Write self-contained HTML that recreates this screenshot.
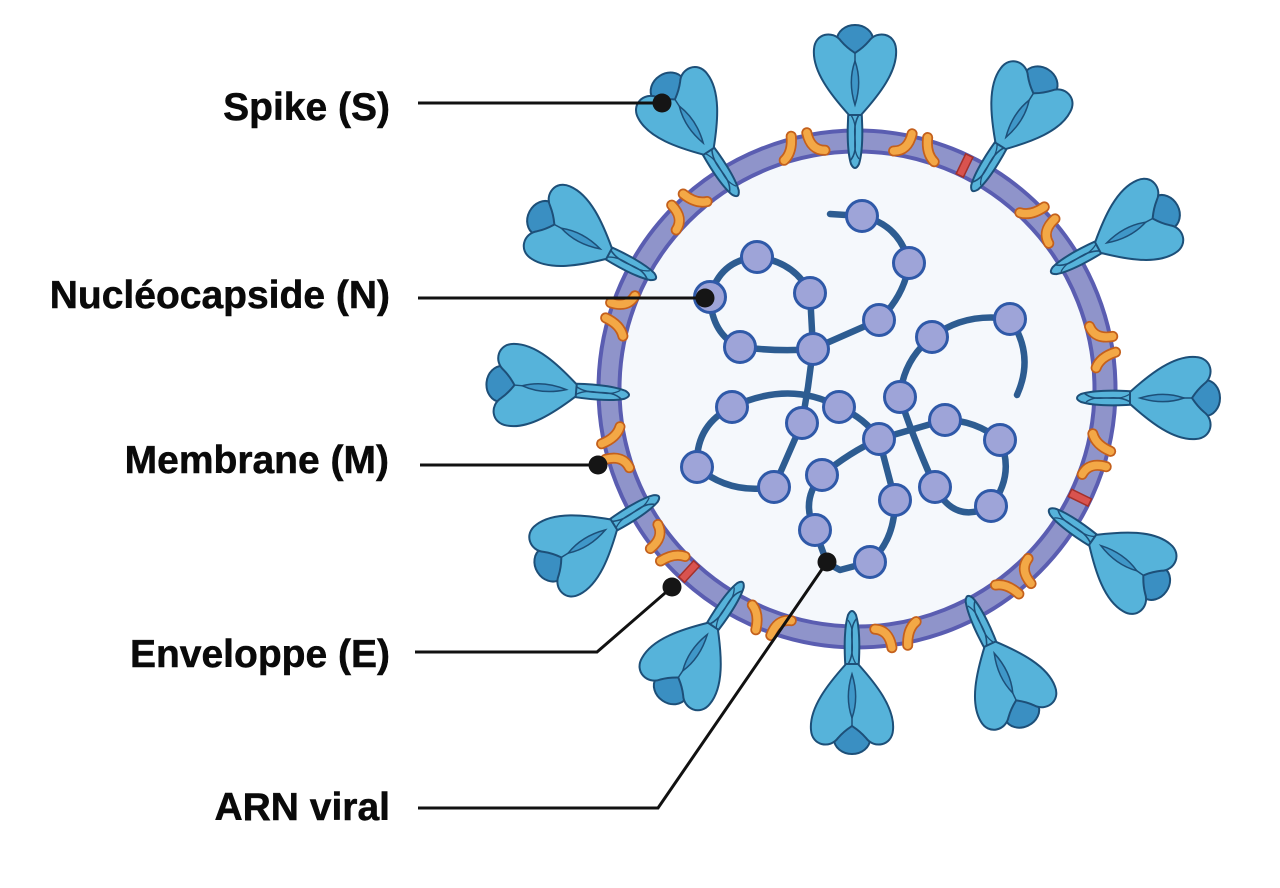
<!DOCTYPE html>
<html>
<head>
<meta charset="utf-8">
<style>
  html,body{margin:0;padding:0;background:#ffffff;}
  svg{display:block;}
  .lbl{font-family:"Liberation Sans",Arial,sans-serif;font-weight:bold;font-size:39px;fill:#0a0a0a;stroke:#0a0a0a;stroke-width:0.5px;}
</style>
</head>
<body>
<svg width="1280" height="888" viewBox="0 0 1280 888" xmlns="http://www.w3.org/2000/svg">
  <defs>
    <g id="spike">
      <!-- stalk (twisted pair) -->
      <path d="M -6,-62 C -8,-40 -8,-16 -4,-3 Q 0,5 4,-3 C 8,-16 8,-40 6,-62 Z" fill="#56b3da" stroke="#1d4f78" stroke-width="2"/>
      <path d="M -5,-6 C 7,-20 -7,-36 5,-54" fill="none" stroke="#1d4f78" stroke-width="1.6"/>
      <path d="M 4,-8 C -6,-22 6,-36 -4,-52" fill="none" stroke="#1d4f78" stroke-width="1.3"/>
      <!-- dark back lobe -->
      <ellipse cx="0" cy="-127" rx="18" ry="15" fill="#3a8fc2" stroke="#1d4f78" stroke-width="2"/>
      <!-- light lobes -->
      <path d="M -6,-52 C -24,-72 -43,-96 -41,-118 C -40,-134 -22,-137 -14,-126 C -8,-119 -3,-116 0,-114 C 3,-116 8,-119 14,-126 C 22,-137 40,-134 41,-118 C 43,-96 24,-72 6,-52 Z" fill="#56b3da" stroke="#1d4f78" stroke-width="2"/>
      <path d="M 0,-106 C -5,-92 -5,-78 0,-62 C 5,-78 5,-92 0,-106 Z" fill="#3f97c8" stroke="#1d4f78" stroke-width="1.5"/>
      <path d="M 0,-114 L 0,-104" stroke="#1d4f78" stroke-width="1.5"/>
    </g>
    <g id="mp">
      <path d="M -10,-13 Q -12,3 -22,9 M 6,-13 Q 6,5 20,8" stroke="#c4601c" stroke-width="11" fill="none" stroke-linecap="round"/>
      <path d="M -10,-13 Q -12,3 -22,9 M 6,-13 Q 6,5 20,8" stroke="#f3a846" stroke-width="7.5" fill="none" stroke-linecap="round"/>
    </g>
    <g id="ep">
      <rect x="-4" y="-11" width="8" height="22" fill="#d9534f" stroke="#a3302a" stroke-width="1.5"/>
    </g>
  </defs>

  <!-- interior + membrane -->
  <circle cx="857" cy="389" r="240" fill="#f5f8fc"/>
  <circle cx="857" cy="389" r="248" fill="none" stroke="#5a5db1" stroke-width="25"/>
  <circle cx="857" cy="389" r="248" fill="none" stroke="#8f94ca" stroke-width="17"/>

  <!-- M proteins -->
  <g transform="translate(857,389)">
    <use href="#mp" transform="rotate(-12.4) translate(0,-248)"/>
    <use href="#mp" transform="rotate(13.5) translate(0,-248) scale(-1,1)"/>
    <use href="#mp" transform="rotate(-43.9) translate(0,-248) scale(-1,1)"/>
    <use href="#mp" transform="rotate(48) translate(0,-248)"/>
    <use href="#mp" transform="rotate(-72) translate(0,-248)"/>
    <use href="#mp" transform="rotate(79.7) translate(0,-248) scale(-1,1)"/>
    <use href="#mp" transform="rotate(-104.3) translate(0,-248) scale(-1,1)"/>
    <use href="#mp" transform="rotate(106) translate(0,-248)"/>
    <use href="#mp" transform="rotate(-129) translate(0,-248)"/>
    <use href="#mp" transform="rotate(139.5) translate(0,-248) scale(-1,1)"/>
    <use href="#mp" transform="rotate(-159.4) translate(0,-248) scale(-1,1)"/>
    <use href="#mp" transform="rotate(171) translate(0,-248)"/>
    <!-- E proteins -->
    <use href="#ep" transform="rotate(25.7) translate(0,-248)"/>
    <use href="#ep" transform="rotate(116) translate(0,-248)"/>
    <use href="#ep" transform="rotate(-137.4) translate(0,-248)"/>
  </g>

  <!-- spikes -->
  <use href="#spike" transform="translate(737,195) rotate(-33)"/>
  <use href="#spike" transform="translate(855,167) rotate(0)"/>
  <use href="#spike" transform="translate(973,190) rotate(32)"/>
  <use href="#spike" transform="translate(1052,272) rotate(62)"/>
  <use href="#spike" transform="translate(1078,398) rotate(90)"/>
  <use href="#spike" transform="translate(1050,510) rotate(125)"/>
  <use href="#spike" transform="translate(968,597) rotate(155)"/>
  <use href="#spike" transform="translate(852,612) rotate(180)"/>
  <use href="#spike" transform="translate(742,583) rotate(-146)"/>
  <use href="#spike" transform="translate(658,497) rotate(-122)"/>
  <use href="#spike" transform="translate(628,395) rotate(-85)"/>
  <use href="#spike" transform="translate(655,278) rotate(-62)"/>

  <!-- nucleocapsid strands -->
  <g fill="none" stroke="#2d5c91" stroke-width="6.5" stroke-linecap="round" stroke-linejoin="round">
    <path d="M 830 214 L 862 216 Q 900 225 909 263 Q 905 295 879 320 Q 845 335 813 349
             L 810 293 Q 795 262 757 257 Q 720 260 710 297 Q 712 335 740 347 Q 780 352 813 349
             L 808 387 L 802 423 L 774 487 Q 730 495 697 467 Q 695 425 732 407 Q 790 380 839 407
             Q 865 418 879 439 L 895 500 Q 895 540 870 562 L 840 570 L 827 563 L 815 530
             Q 800 500 822 475 Q 850 452 879 439 L 945 420 Q 975 420 1000 440 Q 1015 475 991 506
             Q 955 525 935 487 Q 910 430 900 397 Q 903 360 932 337 Q 965 312 1010 319 Q 1035 355 1017 395"/>
  </g>
  <g fill="#9ea4d8" stroke="#2f59a8" stroke-width="3">
    <circle cx="862" cy="216" r="15.5"/>
    <circle cx="909" cy="263" r="15.5"/>
    <circle cx="879" cy="320" r="15.5"/>
    <circle cx="757" cy="257" r="15.5"/>
    <circle cx="810" cy="293" r="15.5"/>
    <circle cx="710" cy="297" r="15.5"/>
    <circle cx="740" cy="347" r="15.5"/>
    <circle cx="813" cy="349" r="15.5"/>
    <circle cx="932" cy="337" r="15.5"/>
    <circle cx="1010" cy="319" r="15.5"/>
    <circle cx="900" cy="397" r="15.5"/>
    <circle cx="732" cy="407" r="15.5"/>
    <circle cx="802" cy="423" r="15.5"/>
    <circle cx="839" cy="407" r="15.5"/>
    <circle cx="879" cy="439" r="15.5"/>
    <circle cx="945" cy="420" r="15.5"/>
    <circle cx="1000" cy="440" r="15.5"/>
    <circle cx="697" cy="467" r="15.5"/>
    <circle cx="774" cy="487" r="15.5"/>
    <circle cx="822" cy="475" r="15.5"/>
    <circle cx="895" cy="500" r="15.5"/>
    <circle cx="935" cy="487" r="15.5"/>
    <circle cx="991" cy="506" r="15.5"/>
    <circle cx="815" cy="530" r="15.5"/>
    <circle cx="870" cy="562" r="15.5"/>
  </g>

  <!-- leader lines -->
  <g fill="none" stroke="#111111" stroke-width="3" stroke-linejoin="miter">
    <path d="M 418 103 L 662 103"/>
    <path d="M 418 298 L 705 298"/>
    <path d="M 420 465 L 598 465"/>
    <path d="M 415 652 L 597 652 L 672 587"/>
    <path d="M 418 808 L 658 808 L 827 562"/>
  </g>
  <g fill="#151515">
    <circle cx="662" cy="103" r="9.5"/>
    <circle cx="705" cy="298" r="9.5"/>
    <circle cx="598" cy="465" r="9.5"/>
    <circle cx="672" cy="587" r="9.5"/>
    <circle cx="827" cy="562" r="9.5"/>
  </g>

  <!-- labels -->
  <text class="lbl" x="390" y="120" text-anchor="end">Spike (S)</text>
  <text class="lbl" x="390" y="308" text-anchor="end">Nucléocapside (N)</text>
  <text class="lbl" x="389" y="473" text-anchor="end">Membrane (M)</text>
  <text class="lbl" x="390" y="667" text-anchor="end">Enveloppe (E)</text>
  <text class="lbl" x="390" y="820" text-anchor="end">ARN viral</text>
</svg>
</body>
</html>
